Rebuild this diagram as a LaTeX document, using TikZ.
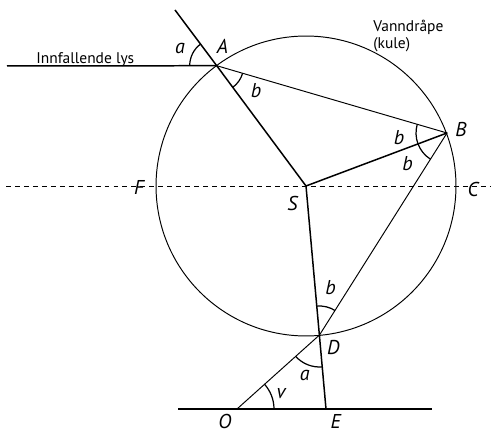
\documentclass[tikz,border=0pt]{standalone}
\usepackage{fontspec}
\setmainfont{PT Sans}
\usetikzlibrary{angles}

\begin{document}
\begin{tikzpicture}[
  x=0.02cm, y=-0.02cm,
  ray/.style={line width=0.85pt},
  thinray/.style={line width=0.55pt},
  ang/.style={draw, line width=0.7pt},
  lbl/.style={font=\fontsize{11.4}{13}\selectfont\itshape, inner sep=0pt},
  txt/.style={font=\fontsize{8.8}{9.8}\selectfont, inner sep=0pt, align=left}
]
\useasboundingbox (0,0) rectangle (493,431);

\coordinate (S) at (306,186);
\coordinate (A) at (216.7,65.7);
\coordinate (B) at (447,133);
\coordinate (D) at (319.5,335);
\coordinate (E) at (326,409);
\coordinate (O) at (237,409);
\coordinate (T) at (175,10);
\coordinate (L) at (7,66);
\coordinate (gl) at (178,409);
\coordinate (gr) at (432,409);
\coordinate (dl) at (6,186);
\coordinate (dr) at (491,186);

\draw[thinray] (S) circle[radius=3cm];
\draw[thinray, dash pattern=on 2.8pt off 2.3pt] (dl) -- (dr);

\draw[ray] (L) -- (A);
\draw[ray] (T) -- (A) -- (S) -- (B);
\draw[ray] (S) -- (E);
\draw[ray] (gl) -- (gr);
\draw[thinray] (A) -- (B) -- (D) -- (O);

\pic[ang, angle radius=0.54cm] {angle = T--A--L};
\pic[ang, angle radius=0.54cm] {angle = S--A--B};
\pic[ang, angle radius=0.62cm] {angle = A--B--S};
\pic[ang, angle radius=0.62cm] {angle = S--B--D};
\pic[ang, angle radius=0.58cm] {angle = B--D--S};
\pic[ang, angle radius=0.64cm] {angle = O--D--E};
\pic[ang, angle radius=0.74cm] {angle = E--O--D};

\node[lbl] (nA) at (222.5,46) {A};
\node[lbl] (nB) at (461,129.5) {B};
\node[lbl] (nC) at (473,189.5) {C};
\node[lbl] (nF) at (139,187.5) {F};
\node[lbl] (nS) at (292.5,203.3) {S};
\node[lbl] (nD) at (333.3,347.5) {D};
\node[lbl] (nO) at (225,421) {O};
\node[lbl] (nE) at (335.8,421) {E};
\node[lbl] (aA) at (180,48) {a};
\node[lbl] (bA) at (256,91) {b};
\node[lbl] (bB1) at (399,137.5) {b};
\node[lbl] (bB2) at (407.5,164) {b};
\node[lbl] (bD) at (330.5,287.5) {b};
\node[lbl] (aD) at (304.7,375.3) {a};
\node[lbl] (vO) at (281,393.8) {v};

\node[txt, anchor=base west] (lys) at (36,63.3) {Innfallende lys};
\node[txt, anchor=base west] (drape) at (373,48.5) {Vanndråpe\\(kule)};
\end{tikzpicture}
\end{document}
